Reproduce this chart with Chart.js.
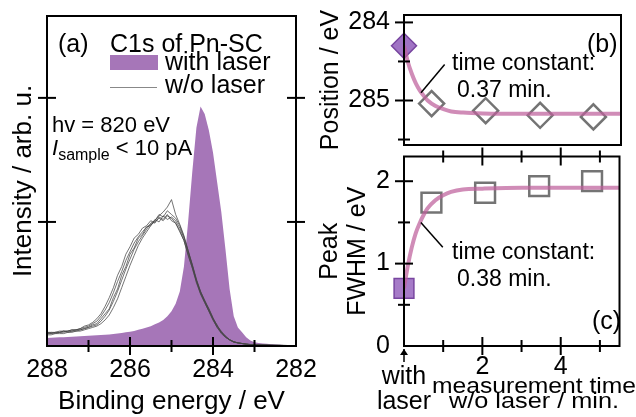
<!DOCTYPE html>
<html>
<head>
<meta charset="utf-8">
<script src="https://cdn.jsdelivr.net/npm/chart.js@4.4.1/dist/chart.umd.min.js"></script>
<style>
  html, body { margin:0; padding:0; background:#fff; }
  #wrap { position:relative; width:636px; height:417px; overflow:hidden; background:#fff; }
  canvas { position:absolute; }
  .t { position:absolute; line-height:1; white-space:nowrap; color:#000;
       font-family:'Liberation Sans', Arial, sans-serif; }
</style>
</head>
<body>
<div id="wrap">
  <canvas id="cA" width="318" height="417" style="left:0;top:0"></canvas>
  <canvas id="cB" width="336" height="160" style="left:300px;top:0"></canvas>
  <canvas id="cC" width="336" height="277" style="left:300px;top:140px"></canvas>

  <div class="t" style="left:58px;top:31px;font-size:25px">(a)</div>
  <div class="t" style="left:110px;top:31px;font-size:25px">C1s of Pn-SC</div>
  <div style="position:absolute;left:110px;top:55px;width:48px;height:15px;background:#a676b8"></div>
  <div class="t" style="left:165px;top:48.5px;font-size:25px">with laser</div>
  <div style="position:absolute;left:110px;top:87px;width:47px;height:1px;background:#888"></div>
  <div class="t" style="left:165px;top:71.5px;font-size:25px">w/o laser</div>
  <div class="t" style="left:52px;top:114px;font-size:22px">hv = 820 eV</div>
  <div class="t" style="left:52px;top:137px;font-size:22px"><i>I</i><span style="font-size:16px;position:relative;top:5px">sample</span> &lt; 10 pA</div>

  <div class="t" style="left:587px;top:30.5px;font-size:25px">(b)</div>
  <div class="t" style="left:452px;top:50.5px;font-size:23px">time constant:</div>
  <div class="t" style="left:457px;top:77.5px;font-size:23px">0.37 min.</div>
  <div class="t" style="left:592px;top:307.5px;font-size:25px">(c)</div>
  <div class="t" style="left:452px;top:239.5px;font-size:23px">time constant:</div>
  <div class="t" style="left:457px;top:266.5px;font-size:23px">0.38 min.</div>
  <div class="t" style="left:404px;top:362.5px;font-size:25px;transform:translateX(-50%)">with</div>
  <div class="t" style="left:404px;top:387.5px;font-size:25px;transform:translateX(-50%)">laser</div>
  <div class="t" style="left:534px;top:375px;font-size:22px;transform:translateX(-50%) scaleX(1.12)">measurement time</div>
  <div class="t" style="left:534px;top:390px;font-size:22px;transform:translateX(-50%) scaleX(1.15)">w/o laser / min.</div>
</div>
<script>
// ---------- data: panel (a) ----------
const energies = [288.0,287.9,287.8,287.7,287.6,287.5,287.4,287.3,287.2,287.1,287.0,
  286.9,286.8,286.7,286.6,286.5,286.4,286.3,286.2,286.1,286.0,
  285.9,285.8,285.7,285.6,285.5,285.4,285.3,285.2,285.1,285.0,
  284.9,284.8,284.7,284.6,284.5,284.4,284.3,284.2,284.1,284.0,
  283.9,283.8,283.7,283.6,283.5,283.4,283.3,283.2,283.1,283.0,
  282.9,282.8,282.7,282.6,282.5,282.4,282.3,282.2,282.1,282.0];
const withLaser = [0.065,0.066,0.068,0.07,0.07,0.072,0.074,0.076,0.078,0.08,0.082,
  0.084,0.086,0.088,0.09,0.093,0.096,0.10,0.105,0.11,0.115,
  0.12,0.13,0.14,0.15,0.16,0.175,0.19,0.21,0.24,0.28,
  0.34,0.44,0.64,1.00,1.40,1.76,1.93,1.87,1.74,1.56,
  1.32,1.08,0.78,0.46,0.24,0.15,0.11,0.07,0.045,0.03,
  0.025,0.02,0.018,0.015,0.012,0.01,0.008,0.007,0.006,0.005];
const woLaser1 = [0.11,0.10,0.11,0.11,0.12,0.12,0.13,0.13,0.14,0.16,0.17,
  0.19,0.22,0.26,0.32,0.39,0.47,0.57,0.64,0.74,0.80,
  0.87,0.90,0.95,0.97,1.01,0.99,1.04,1.02,1.06,1.01,
  0.99,0.92,0.85,0.73,0.63,0.51,0.42,0.35,0.28,0.21,
  0.15,0.11,0.07,0.05,0.03,0.025,0.02,0.015,0.01,0.01,
  0.008,0.008,0.006,0.006,0.005,0.005,0.004,0.004,0.003,0.003];
const woLaser2 = [0.10,0.11,0.10,0.11,0.12,0.11,0.12,0.13,0.13,0.14,0.15,
  0.17,0.18,0.22,0.26,0.30,0.39,0.46,0.57,0.64,0.74,
  0.79,0.87,0.90,0.96,0.97,1.02,1.00,1.05,1.02,1.04,
  1.01,0.95,0.87,0.76,0.65,0.53,0.44,0.36,0.30,0.22,
  0.17,0.11,0.08,0.05,0.035,0.025,0.02,0.015,0.012,0.01,
  0.01,0.008,0.008,0.006,0.006,0.005,0.005,0.004,0.004,0.004];
const woLaser3 = [0.09,0.09,0.10,0.10,0.10,0.11,0.11,0.12,0.12,0.13,0.14,
  0.15,0.16,0.18,0.21,0.25,0.31,0.38,0.47,0.56,0.65,
  0.73,0.81,0.87,0.92,0.97,1.01,1.05,1.08,1.12,1.18,
  1.06,0.98,0.89,0.77,0.66,0.54,0.44,0.37,0.30,0.23,
  0.16,0.12,0.08,0.05,0.035,0.025,0.02,0.015,0.012,0.01,
  0.01,0.008,0.007,0.006,0.006,0.005,0.005,0.004,0.004,0.003];
const woLaser4 = [0.10,0.10,0.11,0.11,0.11,0.12,0.12,0.12,0.13,0.14,0.15,
  0.16,0.17,0.20,0.24,0.29,0.36,0.44,0.53,0.62,0.70,
  0.78,0.84,0.89,0.94,0.99,1.01,1.06,1.04,1.09,1.06,
  1.03,0.97,0.88,0.77,0.65,0.53,0.43,0.36,0.29,0.22,
  0.16,0.11,0.075,0.05,0.035,0.025,0.02,0.015,0.012,0.01,
  0.009,0.008,0.007,0.006,0.005,0.005,0.004,0.004,0.004,0.003];
const woLaser5 = [0.11,0.11,0.11,0.12,0.12,0.12,0.13,0.13,0.14,0.15,0.16,
  0.18,0.20,0.24,0.29,0.35,0.43,0.52,0.60,0.69,0.76,
  0.83,0.88,0.92,0.96,0.98,1.00,1.03,1.01,1.05,1.03,
  0.99,0.93,0.85,0.74,0.63,0.52,0.42,0.35,0.28,0.21,
  0.15,0.10,0.07,0.05,0.03,0.025,0.02,0.015,0.01,0.01,
  0.008,0.008,0.006,0.006,0.005,0.005,0.004,0.004,0.003,0.003];
const aXTickLabels = [288, 286, 284, 282];
const aXMajor = [286, 284];
const aXMinor = [287, 285, 283];
const aYMajor = [1, 2];

// ---------- data: panels (b), (c) ----------
const laserTime = [0];
const laserPos = [284.30];
const laserFwhm = [0.70];
const measTime = [0.7, 2.07, 3.45, 4.8];
const measPos = [285.04, 285.13, 285.19, 285.21];
const measFwhm = [1.74, 1.86, 1.94, 2.00];
const fitTime = [0,0.1,0.2,0.3,0.4,0.5,0.6,0.8,1.0,1.2,1.5,2,3,4,5,5.5];
const posFit = [284.30,284.51,284.66,284.78,284.87,284.94,285.00,285.07,285.11,285.14,285.155,285.165,285.17,285.17,285.17,285.17];
const fwhmFit = [0.70,0.98,1.20,1.37,1.49,1.59,1.67,1.77,1.83,1.87,1.90,1.91,1.92,1.92,1.92,1.92];
const posTickLabels = [284, 285];
const posMajor = [284, 285];
const posMinor = [284.5, 285.5];
const fwhmTickLabels = [0, 1, 2];
const fwhmMajor = [1, 2];
const fwhmMinor = [0.5, 1.5];
const timeTickLabels = [2, 4];
const timeMajor = [2, 4];
const timeMinor = [1, 3, 5];
const posLeader = [0.43, 284.90, 1.03, 284.54];
const fwhmLeader = [0.43, 1.50, 0.99, 1.20];

// ---------- helpers ----------
const F = "'Liberation Sans', Arial, sans-serif";
const pts = (xs, ys) => xs.map((x, i) => ({x: x, y: ys[i]}));
const MAJ = 9, MIN = 6;

const frameTicks = {
  id: 'frameTicks',
  afterDatasetsDraw(chart, args, o) {
    const ctx = chart.ctx, a = chart.chartArea;
    const xs = chart.scales.x, ys = chart.scales.y;
    ctx.save();
    ctx.strokeStyle = '#000';
    ctx.lineWidth = 2;
    ctx.lineCap = 'butt';
    ctx.strokeRect(a.left, a.top, a.right - a.left, a.bottom - a.top);
    const seg = (x1, y1, x2, y2) => { ctx.beginPath(); ctx.moveTo(x1, y1); ctx.lineTo(x2, y2); ctx.stroke(); };
    const yT = (vals, len) => vals.forEach(v => {
      const y = ys.getPixelForValue(v);
      (o.ySides || []).forEach(s => { const x = s === 'left' ? a.left : a.right; seg(x - len, y, x + len, y); });
    });
    const xT = (vals, len) => vals.forEach(v => {
      const x = xs.getPixelForValue(v);
      (o.xSides || []).forEach(s => { const y = s === 'top' ? a.top : a.bottom; seg(x, y - len, x, y + len); });
    });
    yT(o.yMajor || [], MAJ); yT(o.yMinor || [], MIN);
    xT(o.xMajor || [], MAJ); xT(o.xMinor || [], MIN);
    if (o.leader) {
      const L = o.leader;
      ctx.lineWidth = 1.5;
      seg(xs.getPixelForValue(L[0]), ys.getPixelForValue(L[1]), xs.getPixelForValue(L[2]), ys.getPixelForValue(L[3]));
    }
    if (o.arrowAt !== undefined) {
      const x = xs.getPixelForValue(o.arrowAt), y0 = a.bottom + 3;
      ctx.lineWidth = 1.5;
      seg(x, y0, x, y0 + 13);
      ctx.fillStyle = '#000';
      ctx.beginPath(); ctx.moveTo(x, y0); ctx.lineTo(x - 4, y0 + 6); ctx.lineTo(x + 4, y0 + 6); ctx.closePath(); ctx.fill();
    }
    ctx.restore();
  }
};
Chart.register(frameTicks);

const base = { animation: false, responsive: false, devicePixelRatio: 1, events: [] };
const noGrid = { display: false, drawTicks: false };
const fixW = w => s => { s.width = w; s.paddingTop = 0; s.paddingBottom = 0; s.paddingLeft = 0; s.paddingRight = 0; };
const fixH = h => s => { s.height = h; s.paddingTop = 0; s.paddingBottom = 0; s.paddingLeft = 0; s.paddingRight = 0; };

// ---------- panel (a) ----------
const grayStyle = { borderColor: 'rgba(70,70,70,0.75)', borderWidth: 1, pointRadius: 0, fill: false, order: 1 };
new Chart(document.getElementById('cA'), {
  type: 'line',
  data: { datasets: [
    { data: pts(energies, withLaser), borderWidth: 0, borderColor: 'rgba(0,0,0,0)', backgroundColor: '#a676b8', fill: 'origin', pointRadius: 0, order: 10 },
    Object.assign({ data: pts(energies, woLaser1) }, grayStyle),
    Object.assign({ data: pts(energies, woLaser2) }, grayStyle),
    Object.assign({ data: pts(energies, woLaser3) }, grayStyle),
    Object.assign({ data: pts(energies, woLaser4) }, grayStyle),
    Object.assign({ data: pts(energies, woLaser5) }, grayStyle)
  ]},
  options: Object.assign({}, base, {
    layout: { padding: { top: 16, right: 22, bottom: 0, left: 0 } },
    plugins: { legend: { display: false }, tooltip: { enabled: false },
      frameTicks: { xSides: ['bottom'], ySides: ['left', 'right'], xMajor: aXMajor, xMinor: aXMinor, yMajor: aYMajor } },
    scales: {
      x: { type: 'linear', reverse: true, min: 282, max: 288,
        afterBuildTicks: s => { s.ticks = aXTickLabels.map(v => ({ value: v })); },
        afterFit: fixH(71),
        grid: noGrid, border: { display: false },
        ticks: { font: { family: F, size: 25 }, color: '#000', padding: 9, maxRotation: 0, autoSkip: false },
        title: { display: true, text: 'Binding energy / eV', color: '#000', font: { family: F, size: 26 }, padding: { top: 0, bottom: 0 } } },
      y: { type: 'linear', min: 0, max: 2.66,
        afterFit: fixW(47),
        grid: noGrid, border: { display: false }, ticks: { display: false },
        title: { display: true, text: 'Intensity / arb. u.', color: '#000', font: { family: F, size: 26 }, padding: { top: 8, bottom: 0 } } }
    }
  })
});

// ---------- panel (b) ----------
const fitStyle = { borderColor: 'rgba(190,95,155,0.72)', borderWidth: 4, pointRadius: 0, fill: false, cubicInterpolationMode: 'monotone', order: 0 };
new Chart(document.getElementById('cB'), {
  type: 'line',
  data: { datasets: [
    Object.assign({ data: pts(fitTime, posFit) }, fitStyle),
    { data: pts(measTime, measPos), showLine: false, pointStyle: 'rectRot', pointRadius: 12.5, borderWidth: 2.5, borderColor: '#747474', backgroundColor: 'rgba(0,0,0,0)', clip: false, order: 2 },
    { data: pts(laserTime, laserPos), showLine: false, pointStyle: 'rectRot', pointRadius: 12.5, borderWidth: 1.5, borderColor: 'rgb(120,70,160)', backgroundColor: 'rgba(150,100,190,0.9)', clip: false, order: 3 }
  ]},
  options: Object.assign({}, base, {
    layout: { padding: { top: 15, right: 4, bottom: 5, left: 0 } },
    plugins: { legend: { display: false }, tooltip: { enabled: false },
      frameTicks: { xSides: [], ySides: ['left'], yMajor: posMajor, yMinor: posMinor, leader: posLeader } },
    scales: {
      x: { type: 'linear', min: 0, max: 5.5, display: false },
      y: { type: 'linear', reverse: true, min: 283.905, max: 285.57,
        afterBuildTicks: s => { s.ticks = posTickLabels.map(v => ({ value: v })); },
        afterFit: fixW(104),
        grid: noGrid, border: { display: false },
        ticks: { font: { family: F, size: 25 }, color: '#000', padding: 14 },
        title: { display: true, text: 'Position / eV', color: '#000', font: { family: F, size: 25 }, padding: { top: 16, bottom: 0 } } }
    }
  })
});

// ---------- panel (c) ----------
new Chart(document.getElementById('cC'), {
  type: 'line',
  data: { datasets: [
    Object.assign({ data: pts(fitTime, fwhmFit) }, fitStyle),
    { data: pts(measTime, measFwhm), showLine: false, pointStyle: 'rect', pointRadius: 14, borderWidth: 2.5, borderColor: '#747474', backgroundColor: 'rgba(0,0,0,0)', clip: false, order: 2 },
    { data: pts(laserTime, laserFwhm), showLine: false, pointStyle: 'rect', pointRadius: 14, borderWidth: 1.5, borderColor: 'rgb(120,70,160)', backgroundColor: 'rgba(150,100,190,0.85)', clip: false, order: 3 }
  ]},
  options: Object.assign({}, base, {
    layout: { padding: { top: 15, right: 4, bottom: 0, left: 0 } },
    plugins: { legend: { display: false }, tooltip: { enabled: false },
      frameTicks: { xSides: ['top', 'bottom'], ySides: ['left'], xMajor: timeMajor, xMinor: timeMinor,
        yMajor: fwhmMajor, yMinor: fwhmMinor, leader: fwhmLeader, arrowAt: 0 } },
    scales: {
      x: { type: 'linear', min: 0, max: 5.5,
        afterBuildTicks: s => { s.ticks = timeTickLabels.map(v => ({ value: v })); },
        afterFit: fixH(71),
        grid: noGrid, border: { display: false },
        ticks: { font: { family: F, size: 25 }, color: '#000', padding: 6, maxRotation: 0, autoSkip: false } },
      y: { type: 'linear', min: 0, max: 2.30,
        afterBuildTicks: s => { s.ticks = fwhmTickLabels.map(v => ({ value: v })); },
        afterFit: fixW(104),
        grid: noGrid, border: { display: false },
        ticks: { font: { family: F, size: 25 }, color: '#000', padding: 14 },
        title: { display: true, text: ['Peak', 'FWHM / eV'], color: '#000', font: { family: F, size: 25, lineHeight: 1.12 }, padding: { top: 16, bottom: 0 } } }
    }
  })
});
</script>
</body>
</html>
